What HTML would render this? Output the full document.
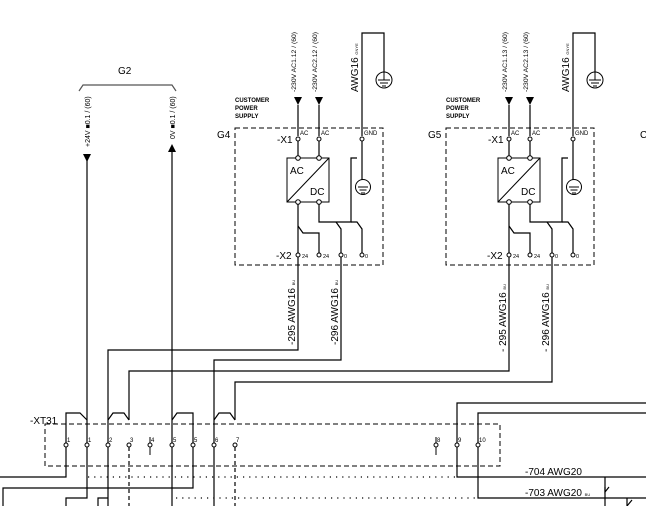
<!DOCTYPE html>
<html><head><meta charset="utf-8"><style>
html,body{margin:0;padding:0;background:#fff;}
svg{display:block;font-family:"Liberation Sans",sans-serif;}
</style></head><body>
<svg width="646" height="506" viewBox="0 0 646 506" xmlns="http://www.w3.org/2000/svg">
<defs>
<g id="ps" fill="none" stroke="#000" stroke-width="1.2">
  <rect x="235" y="128" width="148" height="137" stroke-dasharray="5,3" stroke-width="1"/>
  <line x1="298" y1="105" x2="298" y2="136"/>
  <line x1="319" y1="105" x2="319" y2="136"/>
  <polygon points="294,97 302,97 298,105" fill="#000" stroke="none"/>
  <polygon points="315,97 323,97 319,105" fill="#000" stroke="none"/>
  <polyline points="362,136 362,33 384,33 384,72"/>
  <circle cx="384" cy="80" r="8" stroke-width="1"/>
  <line x1="378" y1="80" x2="390" y2="80" stroke-width="1"/>
  <line x1="380" y1="83" x2="388" y2="83" stroke-width="1"/>
  <line x1="382" y1="86" x2="386" y2="86" stroke-width="1"/>
  <line x1="384" y1="72" x2="384" y2="80" stroke-width="1"/>
  <circle cx="298" cy="139" r="2" fill="#fff" stroke-width="1"/>
  <circle cx="319" cy="139" r="2" fill="#fff" stroke-width="1"/>
  <circle cx="362" cy="139" r="2" fill="#fff" stroke-width="1"/>
  <line x1="298" y1="141" x2="298" y2="156"/>
  <line x1="319" y1="141" x2="319" y2="156"/>
  <rect x="287" y="158" width="42" height="44" stroke-width="1"/>
  <line x1="287" y1="202" x2="329" y2="158" stroke-width="1"/>
  <circle cx="298" cy="158" r="2.3" fill="#fff" stroke-width="1"/>
  <circle cx="319" cy="158" r="2.3" fill="#fff" stroke-width="1"/>
  <circle cx="298" cy="202" r="2.3" fill="#fff" stroke-width="1"/>
  <circle cx="319" cy="202" r="2.3" fill="#fff" stroke-width="1"/>
  <polyline points="362,141 362,180"/>
  <polyline points="357,158 351,158 351,222 319,222 319,204"/>
  <circle cx="363" cy="187" r="7.5" stroke-width="1"/>
  <line x1="358" y1="187" x2="368" y2="187" stroke-width="1"/>
  <line x1="359.5" y1="190" x2="366.5" y2="190" stroke-width="1"/>
  <line x1="361" y1="193" x2="365" y2="193" stroke-width="1"/>
  <polyline points="351,222 357,222 362,229 362,253"/>
  <polyline points="336,222 341,229 341,253"/>
  <polyline points="298,204 298,300"/>
  <polyline points="298,226 303,233 319,233 319,253"/>
  <line x1="341" y1="257" x2="341" y2="300"/>
  <circle cx="298" cy="255" r="2" fill="#fff" stroke-width="1"/>
  <circle cx="319" cy="255" r="2" fill="#fff" stroke-width="1"/>
  <circle cx="341" cy="255" r="2" fill="#fff" stroke-width="1"/>
  <circle cx="362" cy="255" r="2" fill="#fff" stroke-width="1"/>
</g>
<g id="pst" font-size="6.5" fill="#000">
  <text x="235" y="102" font-size="6" font-weight="bold">CUSTOMER</text>
  <text x="235" y="110" font-size="6" font-weight="bold">POWER</text>
  <text x="235" y="118" font-size="6" font-weight="bold">SUPPLY</text>
  <text x="277" y="143" font-size="10">-X1</text>
  <text x="300" y="135" font-size="6">AC</text>
  <text x="321" y="135" font-size="6">AC</text>
  <text x="364" y="135" font-size="6">GND</text>
  <text x="290" y="174" font-size="10">AC</text>
  <text x="310" y="195" font-size="10">DC</text>
  <text x="276" y="259" font-size="10">-X2</text>
  <text x="302" y="258" font-size="5.5">24</text>
  <text x="323" y="258" font-size="5.5">24</text>
  <text x="344" y="258" font-size="5.5">0</text>
  <text x="365" y="258" font-size="5.5">0</text>
  <text transform="translate(358,92) rotate(-90)" font-size="10">AWG16 <tspan font-size="4">GNYE</tspan></text>
</g>
</defs>

<!-- G2 -->
<text x="118" y="74" font-size="10">G2</text>
<polyline points="79,91 83,85 172,85 176,91" fill="none" stroke="#555" stroke-width="1.2"/>
<text transform="translate(90,147) rotate(-90)" font-size="7">+24V ■0.1 / (60)</text>
<text transform="translate(175,139) rotate(-90)" font-size="7">0V ■0.1 / (60)</text>
<polygon points="83,154 91,154 87,162" fill="#000"/>
<polygon points="168,152 176,152 172,144" fill="#000"/>
<g fill="none" stroke="#000" stroke-width="1.2">
<line x1="87" y1="154" x2="87" y2="443"/>
<line x1="172" y1="150" x2="172" y2="443"/>
</g>

<use href="#ps"/><use href="#pst"/>
<text x="217" y="138" font-size="10">G4</text>
<text transform="translate(296,92) rotate(-90)" font-size="6.8">-230V AC1.12 / (60)</text>
<text transform="translate(317,92) rotate(-90)" font-size="6.8">-230V AC2.12 / (60)</text>

<g transform="translate(211,0)"><use href="#ps"/><use href="#pst"/></g>
<text x="428" y="138" font-size="10">G5</text>
<text transform="translate(507,92) rotate(-90)" font-size="6.8">-230V AC1.13 / (60)</text>
<text transform="translate(528,92) rotate(-90)" font-size="6.8">-230V AC2.13 / (60)</text>
<text x="640" y="138" font-size="10">C</text>

<!-- wire labels -->
<text transform="translate(295,345) rotate(-90)" font-size="10">-295 AWG16 <tspan font-size="4">BU</tspan></text>
<text transform="translate(338,345) rotate(-90)" font-size="10">-296 AWG16 <tspan font-size="4">BU</tspan></text>
<text transform="translate(506,352) rotate(-90)" font-size="10">- 295 AWG16 <tspan font-size="4">BU</tspan></text>
<text transform="translate(549,352) rotate(-90)" font-size="10">- 296 AWG16 <tspan font-size="4">BU</tspan></text>

<g fill="none" stroke="#000" stroke-width="1.2">
<polyline points="298,300 298,350 108,350 108,443"/>
<polyline points="341,300 341,360 214,360 214,443"/>
<polyline points="509,300 509,371 129,371 129,420"/>
<polyline points="552,300 552,382 235,382 235,420"/>
<polyline points="646,403 457,403 457,443"/>
<polyline points="646,413 478,413 478,443"/>
<polyline points="66,443 66,413 80,413 87,420"/>
<polyline points="108,420 113,413 124,413 129,420"/>
<polyline points="172,420 177,413 193,413 193,443"/>
<polyline points="214,420 219,413 230,413 235,420"/>
</g>

<!-- XT31 -->
<text x="30" y="424" font-size="10">-XT31</text>
<rect x="45" y="424" width="455" height="42" fill="none" stroke="#000" stroke-width="1" stroke-dasharray="5,3"/>
<g fill="#fff" stroke="#000" stroke-width="1">
<circle cx="66" cy="445" r="2"/><circle cx="87" cy="445" r="2"/><circle cx="108" cy="445" r="2"/>
<circle cx="129" cy="445" r="2"/><circle cx="150" cy="445" r="2"/><circle cx="172" cy="445" r="2"/>
<circle cx="193" cy="445" r="2"/><circle cx="214" cy="445" r="2"/><circle cx="235" cy="445" r="2"/>
<circle cx="436" cy="445" r="2"/><circle cx="457" cy="445" r="2"/><circle cx="478" cy="445" r="2"/>
</g>
<g stroke="#000" stroke-width="1">
<line x1="66" y1="437" x2="66" y2="443"/><line x1="150" y1="437" x2="150" y2="443"/>
<line x1="436" y1="437" x2="436" y2="443"/><line x1="214" y1="437" x2="214" y2="443"/>
<line x1="172" y1="437" x2="172" y2="443"/><line x1="193" y1="437" x2="193" y2="443"/>
<line x1="150" y1="447" x2="150" y2="455"/><line x1="436" y1="447" x2="436" y2="455"/>
</g>
<g font-size="6">
<text x="67" y="442">1</text><text x="88" y="442">1</text><text x="109" y="442">2</text>
<text x="130" y="442">3</text><text x="151" y="442">4</text><text x="173" y="442">5</text>
<text x="194" y="442">5</text><text x="215" y="442">6</text><text x="236" y="442">7</text>
<text x="437" y="442">8</text><text x="458" y="442">9</text><text x="479" y="442">10</text>
</g>

<!-- below -->
<g fill="none" stroke="#000" stroke-width="1.2">
<polyline points="66,447 66,477 0,477"/>
<polyline points="87,447 87,498 66,498 66,506"/>
<polyline points="193,447 193,488 3,488 3,506"/>
<polyline points="108,447 108,506"/>
<polyline points="98,506 98,498 108,498"/>
<line x1="172" y1="447" x2="172" y2="506"/>
<line x1="214" y1="447" x2="214" y2="506"/>
<polyline points="457,447 457,477 646,477"/>
<polyline points="478,447 478,498 646,498"/>
<polyline points="605,477 605,492 609,487"/>
<line x1="605" y1="487" x2="605" y2="506"/>
<polyline points="627,498 627,506"/>
<polyline points="627,506 632,500"/>
</g>
<g fill="none" stroke="#000" stroke-width="1.2" stroke-dasharray="4,3">
<line x1="129" y1="447" x2="129" y2="506"/>
<line x1="235" y1="447" x2="235" y2="506"/>
</g>
<g fill="none" stroke="#000" stroke-width="1.2" stroke-dasharray="1.2,5">
<line x1="88" y1="477" x2="456" y2="477"/>
<line x1="176" y1="498" x2="477" y2="498"/>
</g>
<text x="525" y="475" font-size="10">-704 AWG20</text>
<text x="525" y="496" font-size="10">-703 AWG20 <tspan font-size="4">BU</tspan></text>
</svg>
</body></html>
